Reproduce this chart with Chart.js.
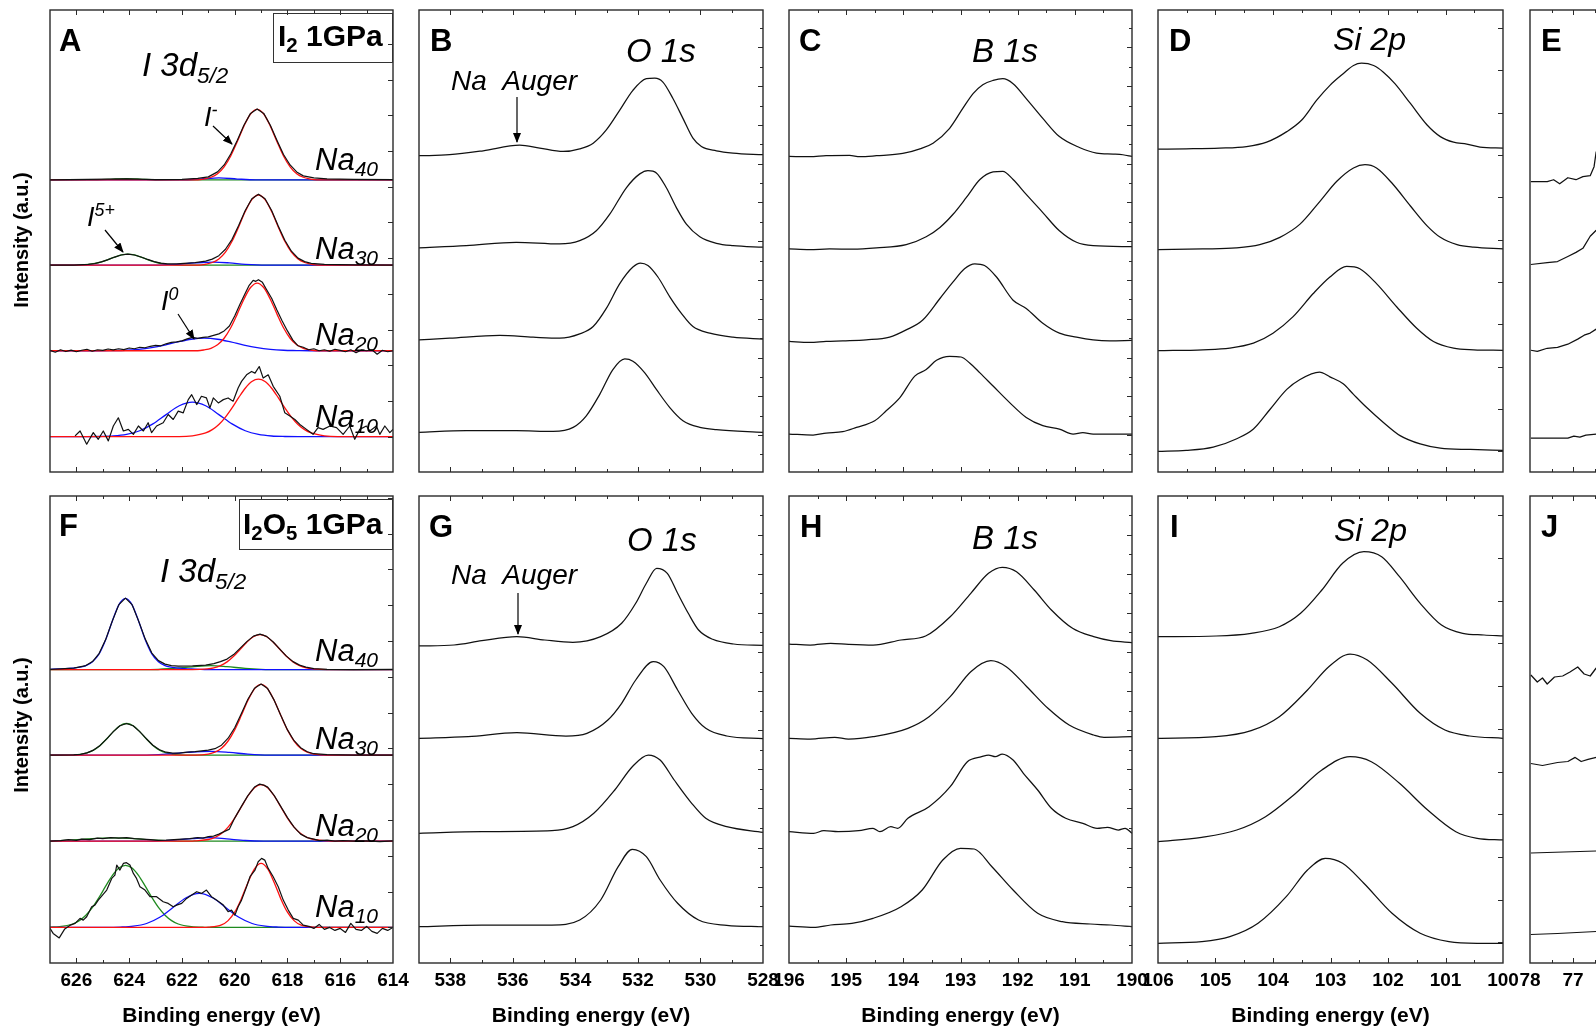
<!DOCTYPE html>
<html>
<head>
<meta charset="utf-8">
<script src="https://cdn.jsdelivr.net/npm/chart.js@4.4.0/dist/chart.umd.min.js"></script>
<style>
  body { margin: 0; width: 1596px; height: 1035px; overflow: hidden; background: #fff; position: relative;
         font-family: "Liberation Sans", Arial, Helvetica, sans-serif; }
  canvas { position: absolute; }
  .t { position: absolute; line-height: 1; white-space: nowrap; color: #000; }
  .b { font-weight: bold; }
  .i { font-style: italic; }
  .sub { font-size: 0.68em; position: relative; top: 0.32em; }
  .sup { font-size: 0.66em; position: relative; top: -0.55em; }
  .box { position: absolute; border: 1.3px solid #333; box-sizing: border-box; }
  .ytitle { position: absolute; width: 240px; text-align: center; font-weight: bold; font-size: 20px; line-height: 20px;
            transform: rotate(-90deg); }
  svg { position: absolute; left: 0; top: 0; }
</style>
</head>
<body>
<script>
const FONT = '"Liberation Sans", Arial, Helvetica, sans-serif';
const BLACK = '#111', RED = '#ff1010', BLUE = '#1010ff', GREEN = '#1f8a1f';

// ---- x tick labels ----
const iTicks = [614, 616, 618, 620, 622, 624, 626];
const oTicks = [528, 530, 532, 534, 536, 538];
const bTicks = [190, 191, 192, 193, 194, 195, 196];
const siTicks = [100, 101, 102, 103, 104, 105, 106];
const eTicks = [70, 71, 72, 73, 74, 75, 76, 77, 78];
const samples = ['40', '30', '20', '10'];

// ---- panel A (I2 1GPa, I 3d5/2) : intensities above each fit baseline ----
const aBase = [294.7, 208.7, 122.3, 35.7];
const aNa40Exp = [[627,0],[624.1,1],[623,0.3],[622,0.5],[621.4,1.5],[621,3],[620.65,8],[620.4,15],[620.15,26],[619.9,40],[619.65,55],[619.4,67],[619.15,71.5],[618.9,67],[618.65,55],[618.4,40],[618.15,25.5],[617.9,15],[617.65,8],[617.4,4],[617,2],[616.5,1],[615.5,0.5],[614,0.3]];
const aNa40Red = [[627,0],[621.4,0],[621.15,0.9],[620.9,2.6],[620.65,6.2],[620.4,13.1],[620.15,24.1],[619.9,38.7],[619.65,54.2],[619.4,66.4],[619.15,71],[618.9,66.4],[618.65,54.2],[618.4,38.7],[618.15,24.1],[617.9,13.1],[617.65,6.2],[617.4,2.6],[617.15,0.9],[616.9,0],[614,0]];
const aNa40Blue = [[627,0],[622,0],[621.3,0.8],[620.6,2],[619.9,0.8],[619.2,0],[614,0]];
const aNa40Green = [[627,0],[625.2,0],[624.6,0.8],[624.1,1.2],[623.6,0.8],[623,0],[614,0]];

const aNa30Exp = [[627,0],[626.1,0],[625.55,0.7],[625.3,1.6],[625.05,3.2],[624.8,5.5],[624.55,8.1],[624.3,10.2],[624.05,11],[623.8,10.2],[623.55,8.2],[623.3,5.7],[623.05,3.5],[622.8,2],[622.55,1.2],[622.2,1.2],[621.5,2.5],[621.1,4],[620.85,6],[620.6,9.5],[620.35,16],[620.1,26],[619.85,40],[619.6,55],[619.35,67],[619.1,71.5],[618.85,67],[618.6,55],[618.35,39.5],[618.1,25],[617.85,14],[617.6,7],[617.35,3.5],[617.1,1.8],[616.6,0.8],[615.5,0.3],[614,0]];
const aNa30Red = [[627,0],[621.35,0],[621.1,0.9],[620.85,2.6],[620.6,6.2],[620.35,13],[620.1,24],[619.85,38.5],[619.6,54],[619.35,66],[619.1,70.7],[618.85,66],[618.6,54],[618.35,38.5],[618.1,24],[617.85,13],[617.6,6.2],[617.35,2.6],[617.1,0.9],[616.85,0],[614,0]];
const aNa30Blue = [[627,0],[623,0],[622.2,0.8],[621.5,2.2],[620.8,3],[620.2,2.2],[619.6,0.8],[618.8,0],[614,0]];
const aNa30Green = [[627,0],[626.1,0],[625.55,0.7],[625.3,1.6],[625.05,3.2],[624.8,5.5],[624.55,8.1],[624.3,10.2],[624.05,11],[623.8,10.2],[623.55,8.1],[623.3,5.5],[623.05,3.2],[622.8,1.6],[622.55,0.7],[622,0],[614,0]];

const aNa20Exp = [[627,0.5],[626.8,-1.5],[626.6,1],[626.4,-0.8],[626.2,0.7],[626,-1],[625.8,0.5],[625.6,1.5],[625.4,-0.5],[625.2,1],[625,0.3],[624.8,1.8],[624.6,0.8],[624.4,2],[624.2,1.2],[624,2.8],[623.8,2],[623.6,3.5],[623.4,3],[623.2,4.5],[623,5.5],[622.8,5],[622.6,7],[622.4,8.5],[622.2,9],[622,10],[621.8,12],[621.6,13.5],[621.4,12.5],[621.2,13.5],[621,14],[620.8,15.5],[620.6,17],[620.4,20],[620.2,25],[620,35],[619.8,47],[619.6,58],[619.45,66],[619.3,71],[619.2,70],[619.1,71.7],[618.95,69],[618.8,62],[618.6,53],[618.4,41],[618.2,30],[618,20],[617.8,11],[617.6,5],[617.4,3.5],[617.2,1],[617,2],[616.8,0],[616.6,1],[616.4,-0.5],[616.2,1.5],[616,0.3],[615.8,-1],[615.6,1],[615.4,-2],[615.2,0.8],[615,0],[614.8,1],[614.6,-3.5],[614.4,0.5],[614.2,-1],[614,0]];
const aNa20Red = [[627,0],[621.4,0],[621.15,0.9],[620.9,2.5],[620.65,6],[620.4,12.6],[620.15,23.2],[619.9,37.2],[619.65,52],[619.4,63.8],[619.15,68.3],[618.9,63.8],[618.65,52],[618.4,37.2],[618.15,23.2],[617.9,12.6],[617.65,6],[617.4,2.5],[617.15,0.9],[616.9,0],[614,0]];
const aNa20Blue = [[627,0],[625.15,0],[624.65,0.2],[624.15,0.5],[623.65,1.4],[623.15,3.1],[622.65,5.7],[622.15,8.9],[621.65,11.6],[621.15,12.7],[620.65,11.6],[620.15,8.9],[619.65,5.7],[619.15,3.1],[618.65,1.4],[618.15,0.5],[617.65,0.2],[617.15,0],[614,0]];

const aNa10Exp = [[626.05,0.7],[625.86,5.7],[625.61,-7.7],[625.36,4],[625.17,-2.7],[624.98,5.7],[624.79,-4.3],[624.6,10.7],[624.41,19],[624.22,5.7],[624.03,7.3],[623.84,2.3],[623.65,10.7],[623.46,5.7],[623.28,14],[623.15,4],[622.96,10.7],[622.71,14],[622.52,22.3],[622.33,17.3],[622.14,25.7],[621.95,24],[621.76,37.3],[621.63,42.3],[621.44,32.3],[621.26,40.7],[621.07,39],[620.94,29],[620.81,39],[620.62,34],[620.43,37.3],[620.25,39],[620.06,35.7],[619.87,49],[619.74,55.7],[619.55,62.3],[619.36,65.7],[619.23,64],[619.07,70.7],[618.92,59],[618.73,62.3],[618.54,50.7],[618.29,40.7],[618.1,24],[617.91,20.7],[617.72,17.3],[617.53,12.3],[617.28,7.3],[617.03,2.3],[616.84,9],[616.65,7.3],[616.39,10.7],[616.14,9],[615.89,2.3],[615.64,10.7],[615.45,-2.7],[615.26,7.3],[615.01,10.7],[614.88,5.7],[614.63,10.7],[614.5,2.3],[614.31,10.7],[614.12,4],[614,7.3]];
const aNa10Red = [[627,0],[622.1,0],[621.6,0.8],[621.1,3.7],[620.85,7],[620.6,12.2],[620.35,19.7],[620.1,29],[619.85,39.3],[619.6,48.8],[619.35,55.6],[619.1,58],[618.85,55.6],[618.6,48.8],[618.35,39.3],[618.1,29],[617.85,19.7],[617.6,12.2],[617.35,7],[617.1,3.7],[616.6,0.8],[616.1,0],[614,0]];
const aNa10Blue = [[627,0],[625.6,0],[625.1,0.1],[624.6,0.6],[624.1,2.2],[623.6,5.9],[623.1,12.8],[622.6,22.2],[622.1,31.1],[621.6,34.7],[621.1,31.1],[620.6,22.2],[620.1,12.8],[619.6,5.9],[619.1,2.2],[618.6,0.6],[618.1,0.1],[617.6,0],[614,0]];

// ---- panel F (I2O5 1GPa, I 3d5/2) ----
const fBase = [293.4, 207.8, 121.9, 35.6];
const fNa40Exp = [[627,0.3],[626.6,0.8],[626.1,1.5],[625.64,4],[625.39,8],[625.14,16],[624.89,30],[624.64,48.5],[624.39,65],[624.14,71.5],[623.89,65],[623.64,48.5],[623.39,30.5],[623.14,16.5],[622.89,9],[622.64,5.5],[622.4,4],[622.14,3.5],[621.6,3.8],[621.1,4.5],[620.79,6],[620.54,8],[620.29,10.5],[620.04,15],[619.79,21.5],[619.54,28],[619.29,33.5],[619.04,35.5],[618.79,33.2],[618.54,27.6],[618.29,20.5],[618.04,13.5],[617.79,8],[617.54,4.5],[617.3,2.5],[617,1],[616.5,0.3],[615.5,0],[614,0.2]];
const fNa40Red = [[627,0],[621.6,0],[621.04,0.7],[620.79,1.8],[620.54,4],[620.29,7.7],[620.04,13.3],[619.79,20.3],[619.54,27.4],[619.29,32.9],[619.04,34.9],[618.79,32.9],[618.54,27.4],[618.29,20.3],[618.04,13.3],[617.79,7.7],[617.54,4],[617.29,1.8],[617.04,0.7],[616.5,0],[614,0]];
const fNa40Blue = [[627,0.3],[626.64,0.6],[626.14,1.4],[625.64,3.9],[625.39,7.8],[625.14,15.7],[624.89,29.9],[624.64,48.4],[624.39,64.8],[624.14,71.2],[623.89,64.8],[623.64,48.4],[623.39,29.9],[623.14,15.7],[622.89,7.8],[622.64,3.9],[622.14,1.4],[621.64,0.6],[621.14,0],[614,0]];
const fNa40Green = [[627,0],[623.2,0],[622.4,1],[621.6,2.8],[620.9,4],[620.3,3],[619.6,1.2],[619,0.3],[618.2,0],[614,0]];

const fNa30Exp = [[627,0],[626.1,0.3],[625.85,0.9],[625.6,2.3],[625.35,5.1],[625.1,9.8],[624.85,16.4],[624.6,23.6],[624.35,29.5],[624.1,31.7],[623.85,29.5],[623.6,23.6],[623.35,16.5],[623.1,10],[622.85,5.5],[622.6,3],[622.35,2],[622.1,2],[621.8,3],[621.5,3.5],[621,5],[620.75,6.5],[620.5,10],[620.25,17],[620,27.5],[619.75,41.5],[619.5,56],[619.25,67],[619,71.2],[618.75,66.6],[618.5,54.8],[618.25,39.6],[618,25.3],[617.75,14.5],[617.5,7.5],[617.25,3.5],[617,1.5],[616.5,0.5],[615.5,0],[614,0]];
const fNa30Red = [[627,0],[621.5,0],[621,1.1],[620.75,3],[620.5,6.9],[620.25,14.2],[620,25.3],[619.75,39.6],[619.5,54.7],[619.25,66.4],[619,70.8],[618.75,66.4],[618.5,54.7],[618.25,39.6],[618,25.3],[617.75,14.2],[617.5,6.9],[617.25,3],[617,1.1],[616.5,0],[614,0]];
const fNa30Blue = [[627,0],[623.5,0],[622.6,1],[621.8,2.8],[620.9,3.9],[620.2,2.8],[619.5,1],[618.7,0],[614,0]];
const fNa30Green = [[627,0],[626.6,0],[626.1,0.3],[625.85,0.9],[625.6,2.3],[625.35,5.1],[625.1,9.8],[624.85,16.4],[624.6,23.6],[624.35,29.5],[624.1,31.7],[623.85,29.5],[623.6,23.6],[623.35,16.4],[623.1,9.8],[622.85,5.1],[622.6,2.3],[622.35,0.9],[622.1,0.3],[621.6,0],[614,0]];

const fNa20Exp = [[627,0],[626.6,0.5],[626.3,1.5],[626,0.8],[625.8,2],[625.5,1.5],[625.2,3],[625,2.5],[624.7,3.5],[624.4,3],[624.1,3.5],[623.8,2.5],[623.5,2],[623.2,1.5],[622.9,0.8],[622.6,1],[622.3,1.5],[622,2],[621.7,2.5],[621.4,3.5],[621.2,3],[621,4.5],[620.8,5],[620.6,7],[620.4,9.5],[620.2,12],[620,23],[619.75,34.5],[619.5,45.5],[619.25,54],[619.05,57],[618.9,56],[618.75,54],[618.5,45.5],[618.25,34.5],[618,23.5],[617.75,14],[617.5,7],[617.25,3.5],[617,2],[616.8,0.5],[616.5,1],[616.2,0],[615.9,0.5],[615.5,0],[615,0.3],[614.5,-0.5],[614,0.3]];
const fNa20Red = [[627,0],[621.6,0],[621.5,0.2],[621,1.6],[620.75,3.6],[620.5,7.5],[620.25,13.9],[620,23],[619.75,34.1],[619.5,45.1],[619.25,53.4],[619,56.4],[618.75,53.4],[618.5,45.1],[618.25,34.1],[618,23],[617.75,13.9],[617.5,7.5],[617.25,3.6],[617,1.6],[616.5,0.2],[616,0],[614,0]];
const fNa20Blue = [[627,0],[623.2,0],[622.4,0.8],[621.6,2.5],[620.95,3.5],[620.3,2.2],[619.6,0.6],[618.9,0],[614,0]];
const fNa20Green = [[627,0],[626.6,0.5],[625.8,1.8],[625,3],[624.5,3.2],[624,2.8],[623.2,1.3],[622.4,0.3],[621.8,0],[614,0]];

const fNa10Exp = [[627,-1],[626.88,-6],[626.65,-10.5],[626.44,-1.5],[626.25,2],[626.05,4],[625.86,9],[625.74,7.3],[625.61,10.7],[625.42,20.7],[625.3,22.3],[625.17,27.3],[624.85,37.3],[624.66,49],[624.54,52.3],[624.47,62.3],[624.35,57.3],[624.22,64],[624.1,64.7],[623.97,62.3],[623.84,54],[623.72,49],[623.59,40.7],[623.4,37.3],[623.21,30.7],[622.96,30.7],[622.71,25.7],[622.52,24],[622.33,20.7],[622.2,22.3],[622.01,24],[621.82,29],[621.63,32.3],[621.44,35.7],[621.26,34],[621.07,37.3],[620.88,30.7],[620.69,27.3],[620.43,22.3],[620.25,15.7],[620.12,17.3],[619.99,12.3],[619.87,20.7],[619.74,27.3],[619.55,40.7],[619.42,50.7],[619.23,57.3],[619.11,65.7],[618.98,69],[618.86,67.3],[618.73,59],[618.54,50.7],[618.35,40.7],[618.16,27.3],[617.97,17.3],[617.78,9],[617.59,7.3],[617.4,2.3],[617.15,0.7],[617,-1],[616.8,3],[616.6,-2],[616.4,0],[616.2,-3],[616,-1],[615.8,-5],[615.6,4],[615.4,-2],[615.2,-3],[615,1],[614.8,-4],[614.6,-6],[614.4,-1],[614.2,-3],[614,0]];
const fNa10Red = [[627,0],[621.2,0],[621,0.2],[620.5,2.5],[620.25,6.8],[620,15.2],[619.75,28.5],[619.5,44.7],[619.25,58.5],[619,64],[618.75,58.5],[618.5,44.7],[618.25,28.5],[618,15.2],[617.75,6.8],[617.5,2.5],[617,0.2],[616.8,0],[614,0]];
const fNa10Blue = [[627,0],[624.84,0],[624.34,0.3],[623.84,1.2],[623.34,3.9],[622.84,10.1],[622.34,19.9],[621.84,29.7],[621.34,34],[620.84,29.7],[620.34,19.9],[619.84,10.1],[619.34,3.9],[618.84,1.2],[618.34,0.3],[617.84,0],[614,0]];
const fNa10Green = [[627,0.3],[626.64,0.7],[626.14,3.4],[625.89,6.8],[625.64,12.2],[625.39,20],[625.14,30],[624.89,41.2],[624.64,51.7],[624.39,59.3],[624.14,62],[623.89,59.3],[623.64,51.7],[623.39,41.2],[623.14,30],[622.89,20],[622.64,12.2],[622.39,6.8],[622.14,3.4],[621.64,0.7],[621.14,0.1],[620.5,0],[614,0]];

// ---- O 1s (B: I2, G: I2O5), stacked intensities ----
const bNa40 = [[539,319],[538.02,320],[536.95,324],[535.78,329.7],[535.14,326.7],[534.39,323.3],[533.86,326],[533.43,331.7],[533.01,345],[532.58,365],[532.16,385],[531.73,396.7],[531.46,397.3],[531.2,393.3],[530.88,376.7],[530.56,356.7],[530.24,336.7],[529.97,328.3],[529.49,324],[528.96,321.7],[528,320]];
const bNa30 = [[539,226],[537.49,228.3],[535.89,231.7],[534.5,230],[533.86,233.3],[533.33,243.3],[532.9,260],[532.37,286.7],[531.94,300.7],[531.68,304],[531.41,301.7],[531.09,286.7],[530.77,266.7],[530.45,250],[530.02,237.3],[529.49,230.7],[528.96,228.3],[528,226.7]];
const bNa20 = [[539,133.3],[538.02,135],[536.42,137.7],[535.35,136],[534.5,135],[533.86,139.3],[533.43,146.7],[533.01,165],[532.58,190],[532.16,206.7],[531.92,210.7],[531.68,208.3],[531.36,196.7],[530.98,176.7],[530.61,160],[530.24,146.7],[529.7,140],[528.96,136],[528,134]];
const bNa10 = [[539,40],[537.49,41.7],[535.89,41.7],[534.71,41],[534.07,45],[533.65,56.7],[533.22,78.3],[532.8,103.3],[532.42,114],[532.16,111.7],[531.78,100],[531.41,83.3],[530.98,65],[530.56,51.7],[530.02,45],[529.49,42.7],[528,40]];
const gNa40 = [[539,317],[537.88,318],[536.99,322.3],[535.87,326.3],[534.98,323],[534.08,320.7],[533.19,326.3],[532.52,339.7],[532.07,359.7],[531.73,379.7],[531.4,394.7],[531.06,389.7],[530.73,369.7],[530.39,349.7],[530.06,333],[529.61,323.7],[528.94,319],[528,317.7]];
const gNa30 = [[539,224.7],[537.43,226.3],[535.87,230.3],[534.3,227],[533.63,229.7],[532.96,243],[532.52,259.7],[532.07,283],[531.51,301.3],[531.17,296.3],[530.73,273],[530.28,249.7],[529.83,234.7],[529.16,227],[528,224.3]];
const gNa20 = [[539,129.7],[536.99,131.3],[534.75,132.3],[534.08,136.3],[533.41,149.7],[532.74,173],[532.18,196.3],[531.67,208],[531.29,203],[530.84,183],[530.28,159.7],[529.83,144.7],[529.16,136.3],[528,130.7]];
const gNa10 = [[539,36.3],[536.99,38],[534.75,38],[533.86,43],[533.19,63],[532.63,96.3],[532.18,113.7],[531.73,106.3],[531.29,83],[530.73,59.7],[530.06,43],[529.16,37.7],[528,36.3]];

// ---- B 1s (C: I2, H: I2O5) ----
const cNa40 = [[196,318.3],[195.64,318],[195.35,319],[194.94,319.3],[194.76,318],[194.47,319],[194.01,321.3],[193.71,326],[193.48,331.7],[193.19,346.7],[192.96,366.7],[192.78,381.7],[192.61,390.7],[192.43,395],[192.26,396.7],[192.08,391.7],[191.85,376.7],[191.56,356.7],[191.27,338.3],[190.92,327.3],[190.62,321.7],[190.33,320.7],[190.16,320],[190,318.3]];
const cNa30 = [[196,225],[195.64,224.3],[195.29,225],[194.88,224.7],[194.47,226],[193.95,229.3],[193.6,237.3],[193.36,246.7],[193.13,260],[192.9,276.7],[192.66,295],[192.43,302.7],[192.26,303.3],[192.08,295],[191.85,280],[191.56,261.7],[191.27,243.3],[190.97,231.7],[190.68,228.3],[190,227.3]];
const cNa20 = [[196,131.7],[195.64,130.7],[195.35,131.7],[195.06,132.3],[194.65,133.3],[194.24,136],[193.95,143.3],[193.66,153.3],[193.36,175],[193.13,191.7],[192.93,205],[192.75,210],[192.58,208.3],[192.37,196.7],[192.08,173.3],[191.85,165],[191.56,150],[191.27,140],[190.97,136],[190.68,133.3],[190.39,132.3],[190,132.7]];
const cNa10 = [[196,38.3],[195.58,37.3],[195.35,39.3],[195.06,40.7],[194.82,45],[194.5,51.7],[194.3,61.7],[194.06,75],[193.8,96.7],[193.6,103.3],[193.42,112.7],[193.19,116.7],[192.99,116],[192.84,110],[192.66,100],[192.43,86.7],[192.14,70],[191.85,55],[191.56,46.7],[191.27,43.3],[191.03,38.3],[190.86,39.7],[190.68,38.3],[190,38.3]];
const hNa40 = [[196,319],[195.63,318],[195.27,319.7],[194.96,318.7],[194.53,318],[194.04,323],[193.61,327],[193.18,346.3],[192.82,369.7],[192.51,389.7],[192.27,395.7],[192.02,391.3],[191.71,373],[191.41,353],[191.04,334.7],[190.67,326.3],[190.37,322.3],[190,320.3]];
const hNa30 = [[196,224.7],[195.63,224],[195.2,225.7],[194.96,224],[194.53,226.3],[193.92,234.7],[193.55,246.3],[193.18,266.3],[192.82,291.3],[192.47,302.3],[192.2,296.3],[191.84,276.3],[191.47,254.7],[191.1,238],[190.67,228],[190.49,225.7],[190,226.3]];
const hNa20 = [[196,131.3],[195.57,129.7],[195.39,132.3],[195.14,131.3],[194.78,132.3],[194.53,134.7],[194.41,131.3],[194.22,136.3],[194.1,134.7],[193.92,144.7],[193.55,156.3],[193.18,176.3],[192.88,201.3],[192.63,206.3],[192.51,208],[192.39,206.3],[192.27,209],[192.08,203],[191.9,189.7],[191.65,173],[191.41,154.7],[191.16,144.7],[190.86,139.7],[190.61,134.7],[190.43,135.7],[190.24,133],[190.12,134.7],[190,129.7]];
const hNa10 = [[196,37],[195.57,35.7],[195.27,38],[194.9,39.7],[194.53,44.7],[194.04,56.3],[193.67,73],[193.31,103],[193,114.7],[192.76,114],[192.45,96.3],[192.08,73],[191.65,49.7],[191.22,41.3],[190.73,39],[190.37,38],[190,36.3]];

// ---- Si 2p (D: I2, I: I2O5) ----
const dNa40 = [[106,325.7],[105.51,326],[104.93,326.7],[104.46,328.3],[104.11,332.7],[103.76,343.3],[103.5,355],[103.24,375],[103.01,390],[102.78,401.7],[102.6,410],[102.46,412.3],[102.25,410],[102.08,403.3],[101.88,391.7],[101.61,371.7],[101.32,350],[101.09,338.3],[100.86,332.7],[100.63,330.7],[100.4,327.7],[100,326.7]];
const dNa30 = [[106,224.3],[105.22,225],[104.64,226],[104.23,229.3],[103.88,236.7],[103.53,250],[103.18,273.3],[102.89,293.3],[102.6,306.7],[102.4,310],[102.2,306.7],[101.91,290],[101.61,268.3],[101.32,248.3],[101.09,236.7],[100.8,229.3],[100.51,226.7],[100,225]];
const dNa20 = [[106,122.3],[105.22,123.3],[104.75,125],[104.34,130],[104,140],[103.65,156.7],[103.3,180],[103.01,196.7],[102.72,207.3],[102.49,205],[102.2,190],[101.85,166.7],[101.5,145],[101.21,131.7],[100.86,125],[100.51,123.3],[100,122.7]];
const dNa10 = [[106,20.7],[105.51,21.7],[105.04,25],[104.64,33.3],[104.34,43.3],[104.05,63.3],[103.76,83.3],[103.53,93.3],[103.19,100.7],[103.01,96],[102.78,89],[102.6,78.3],[102.37,65],[102.08,50],[101.79,36.7],[101.44,28.3],[101.09,24],[100.57,22.7],[100,21.7]];
const iNa40 = [[106,326.3],[104.99,327],[104.38,329.7],[103.89,336.3],[103.52,349.7],[103.15,373],[102.79,399.7],[102.42,411.3],[102.11,406.3],[101.8,386.3],[101.44,359.7],[101.07,338],[100.7,329.7],[100.33,328],[100,327]];
const iNa30 = [[106,224.7],[104.99,226.3],[104.38,232.3],[103.89,246.3],[103.4,273],[103.03,296.3],[102.66,309],[102.36,303],[101.93,279.7],[101.44,249.7],[101.01,233],[100.58,227],[100,224.7]];
const iNa20 = [[106,121.3],[105.24,125.7],[104.63,133],[104.13,146.3],[103.64,168],[103.15,193],[102.66,206.3],[102.29,201.3],[101.8,179.7],[101.31,153],[100.82,131.3],[100.45,124.7],[100,123]];
const iNa10 = [[106,19.7],[105.24,21.3],[104.75,26.3],[104.26,39.7],[103.77,66.3],[103.4,93],[103.09,104.7],[102.79,99.7],[102.42,79.7],[101.93,49.7],[101.44,29.7],[100.94,21.3],[100.45,19.7],[100,19.7]];

// ---- E / J (only the left edge is visible) ----
const eNa40 = [[77.98,292.8],[77.6,292.8],[77.45,294.8],[77.31,290.7],[77.12,296.8],[76.93,294.8],[76.77,297.9],[76.6,298.9],[76.51,308],[76.46,323.3]];
const eNa30 = [[77.98,209.3],[77.6,211.3],[77.36,212.3],[77.12,217.4],[76.93,221.5],[76.77,225.6],[76.6,237.8],[76.46,243.9]];
const eNa20 = [[77.98,122.8],[77.83,121.7],[77.6,124.8],[77.36,125.8],[77.12,128.9],[76.89,134],[76.74,138],[76.6,140.1],[76.46,144.1]];
const eNa10 = [[77.98,34.2],[77.12,34.2],[76.98,36.2],[76.84,35.2],[76.7,37.2],[76.46,38.3]];
const jNa40 = [[77.98,288],[77.83,281],[77.71,285],[77.6,279],[77.43,286],[77.24,287],[77.07,291],[76.89,296],[76.74,289],[76.6,287],[76.46,295]];
const jNa30 = [[77.98,199.5],[77.71,197.5],[77.36,200.5],[77.12,201.5],[76.95,205.6],[76.81,201.5],[76.65,203.6],[76.46,205.6]];
const jNa20 = [[77.98,110],[76.46,112]];
const jNa10 = [[77.98,28.5],[77.36,29.5],[76.46,31.5]];

// ---------------------------------------------------------------
function fitStack(base, groups) {
    const out = [];
    groups.forEach((g, k) => {
        out.push({ pts: g[0], base: base[k], color: BLACK, smooth: false, width: 1.2 });
        if (g[1]) out.push({ pts: g[1], base: base[k], color: RED, smooth: true, width: 1.3 });
        if (g[2]) out.push({ pts: g[2], base: base[k], color: BLUE, smooth: true, width: 1.3 });
        if (g[3]) out.push({ pts: g[3], base: base[k], color: GREEN, smooth: true, width: 1.3 });
    });
    return out;
}
function plain(list, smooth) {
    return list.map(p => ({ pts: p, base: 0, color: BLACK, smooth: smooth, width: 1.25 }));
}

const TOP = 10, TOP_H = 466, BOT = 496, BOT_H = 467;
const cols = [50, 419, 789, 1158, 1530];
const widths = [343, 344, 343, 345, 344];
const tickSetA = { start: 35.7, step: 36, alt: false };
const tickSetF = { start: 35.6, step: 35.8, alt: false };
const tickSetB = { start: 17.7, step: 19.55, alt: true };
const tickSetD = { start: 20.7, step: 42.7, alt: false };

const panels = [
    { col: 0, row: 0, range: [614, 627], ticks: iTicks, yt: tickSetA,
      series: fitStack(aBase, [[aNa40Exp, aNa40Red, aNa40Blue, aNa40Green], [aNa30Exp, aNa30Red, aNa30Blue, aNa30Green],
                               [aNa20Exp, aNa20Red, aNa20Blue], [aNa10Exp, aNa10Red, aNa10Blue]]) },
    { col: 1, row: 0, range: [528, 539], ticks: oTicks, yt: tickSetB, series: plain([bNa40, bNa30, bNa20, bNa10], true) },
    { col: 2, row: 0, range: [190, 196], ticks: bTicks, yt: tickSetB, series: plain([cNa40, cNa30, cNa20, cNa10], true) },
    { col: 3, row: 0, range: [100, 106], ticks: siTicks, yt: tickSetD, series: plain([dNa40, dNa30, dNa20, dNa10], true) },
    { col: 4, row: 0, range: [70, 78], ticks: eTicks, yt: tickSetD, series: plain([eNa40, eNa30, eNa20, eNa10], false) },
    { col: 0, row: 1, range: [614, 627], ticks: iTicks, yt: tickSetF,
      series: fitStack(fBase, [[fNa40Exp, fNa40Red, fNa40Blue, fNa40Green], [fNa30Exp, fNa30Red, fNa30Blue, fNa30Green],
                               [fNa20Exp, fNa20Red, fNa20Blue, fNa20Green], [fNa10Exp, fNa10Red, fNa10Blue, fNa10Green]]) },
    { col: 1, row: 1, range: [528, 539], ticks: oTicks, yt: tickSetB, series: plain([gNa40, gNa30, gNa20, gNa10], true) },
    { col: 2, row: 1, range: [190, 196], ticks: bTicks, yt: tickSetB, series: plain([hNa40, hNa30, hNa20, hNa10], true) },
    { col: 3, row: 1, range: [100, 106], ticks: siTicks, yt: tickSetD, series: plain([iNa40, iNa30, iNa20, iNa10], true) },
    { col: 4, row: 1, range: [70, 78], ticks: eTicks, yt: tickSetD, series: plain([jNa40, jNa30, jNa20, jNa10], false) }
];

// frame + inward ticks drawn from the chart's own scales
const frameTicks = {
    id: 'frameTicks',
    afterDraw(chart, args, o) {
        const { ctx, chartArea: a, scales: { x, y } } = chart;
        const line = (x1, y1, x2, y2) => { ctx.beginPath(); ctx.moveTo(x1, y1); ctx.lineTo(x2, y2); ctx.stroke(); };
        ctx.save();
        ctx.strokeStyle = '#2a2a2a';
        ctx.lineWidth = 1;
        const t = o.ticks, half = (t[1] - t[0]) / 2;
        t.forEach(v => {
            const px = Math.round(x.getPixelForValue(v)) + 0.5;
            if (v > x.min && v < x.max) { line(px, a.bottom, px, a.bottom - 5); line(px, a.top, px, a.top + 5); }
            const m = v + half;
            if (m > x.min && m < x.max) {
                const pm = Math.round(x.getPixelForValue(m)) + 0.5;
                line(pm, a.bottom, pm, a.bottom - 3); line(pm, a.top, pm, a.top + 3);
            }
        });
        for (let k = 0, v = o.yt.start; v < y.max; k++, v += o.yt.step) {
            const py = Math.round(y.getPixelForValue(v)) + 0.5;
            const len = o.yt.alt && k % 2 === 0 ? 3 : 5;
            line(a.right, py, a.right - len, py);
        }
        ctx.lineWidth = 1.4;
        ctx.strokeRect(a.left, a.top, a.right - a.left, a.bottom - a.top);
        ctx.restore();
    }
};

panels.forEach(p => {
    const padX = 30, padT = 4, padB = p.row === 1 ? 44 : 4;
    const left = cols[p.col], w = widths[p.col];
    const top = p.row === 0 ? TOP : BOT, h = p.row === 0 ? TOP_H : BOT_H;
    const cv = document.createElement('canvas');
    const cw = w + 2 * padX, ch = h + padT + padB;
    cv.width = cw; cv.height = ch;
    cv.style.left = (left - padX) + 'px';
    cv.style.top = (top - padT) + 'px';
    cv.style.width = cw + 'px'; cv.style.height = ch + 'px';
    document.body.appendChild(cv);

    new Chart(cv, {
        type: 'line',
        data: {
            datasets: p.series.map(s => ({
                data: s.pts.map(([e, v]) => ({ x: e, y: v + s.base })),
                borderColor: s.color,
                borderWidth: s.width,
                pointRadius: 0,
                fill: false,
                tension: 0,
                cubicInterpolationMode: s.smooth ? 'monotone' : 'default',
                borderJoinStyle: 'round'
            }))
        },
        options: {
            responsive: false,
            animation: false,
            events: [],
            layout: { padding: { left: padX, right: padX, top: padT, bottom: p.row === 1 ? 0 : padB } },
            plugins: {
                legend: { display: false },
                tooltip: { enabled: false },
                frameTicks: { ticks: p.ticks, yt: p.yt }
            },
            scales: {
                x: {
                    type: 'linear', reverse: true, min: p.range[0], max: p.range[1],
                    display: p.row === 1,
                    grid: { display: false, drawTicks: false },
                    border: { display: false },
                    afterBuildTicks: s => { s.ticks = p.ticks.map(v => ({ value: v })); },
                    afterFit: s => { s.height = padB; },
                    ticks: { color: '#000', padding: 6, maxRotation: 0, autoSkip: false,
                             font: { family: FONT, size: 19, weight: 'bold' } }
                },
                y: { type: 'linear', display: false, min: 0, max: h }
            }
        },
        plugins: [frameTicks]
    });
});

// ---- text ----
function label(html, x, baseline, size, cls) {
    const d = document.createElement('div');
    d.className = 't ' + cls;
    d.style.fontSize = size + 'px';
    d.style.left = x + 'px';
    d.style.top = (baseline - 0.8465 * size) + 'px';
    d.innerHTML = html;
    document.body.appendChild(d);
}
function box(x, y, w, h) {
    const d = document.createElement('div');
    d.className = 'box';
    Object.assign(d.style, { left: x + 'px', top: y + 'px', width: w + 'px', height: h + 'px' });
    document.body.appendChild(d);
}

const letters = [['A', 59, 51], ['B', 430, 51], ['C', 799, 51], ['D', 1169, 51], ['E', 1541, 51],
                 ['F', 59, 536], ['G', 429, 537], ['H', 800, 537], ['I', 1170, 537], ['J', 1541, 537]];
letters.forEach(([s, x, y]) => label(s, x, y, 31, 'b'));

box(273, 13, 120, 50);
label('I<span class="sub">2</span> 1GPa', 278, 46, 30, 'b');
box(239, 499, 154, 51);
label('I<span class="sub">2</span>O<span class="sub">5</span> 1GPa', 243, 534, 30, 'b');

label('I 3d<span class="sub">5/2</span>', 142, 76, 33, 'i');
label('I 3d<span class="sub">5/2</span>', 160, 582, 33, 'i');
label('O 1s', 626, 62, 33, 'i');
label('O 1s', 627, 551, 33, 'i');
label('B 1s', 972, 62, 33, 'i');
label('B 1s', 972, 549, 33, 'i');
label('Si 2p', 1333, 50, 32, 'i');
label('Si 2p', 1334, 541, 32, 'i');
label('Na&nbsp;&nbsp;Auger', 451, 91, 28, 'i');
label('Na&nbsp;&nbsp;Auger', 451, 585, 28, 'i');

[170, 259, 345, 427].forEach((y, k) => label('Na<span class="sub">' + samples[k] + '</span>', 315, y, 31, 'i'));
[661, 749, 836, 917].forEach((y, k) => label('Na<span class="sub">' + samples[k] + '</span>', 315, y, 31, 'i'));

label('I<span class="sup">-</span>', 204, 127, 27, 'i');
label('I<span class="sup">5+</span>', 87, 227, 27, 'i');
label('I<span class="sup">0</span>', 161, 311, 27, 'i');

[[240], [725]].forEach(([cy]) => {
    const d = document.createElement('div');
    d.className = 'ytitle';
    d.textContent = 'Intensity (a.u.)';
    d.style.left = (21 - 120) + 'px';
    d.style.top = (cy - 10) + 'px';
    document.body.appendChild(d);
});
cols.forEach((x, k) => {
    const d = document.createElement('div');
    d.className = 't b';
    d.style.fontSize = '21px';
    d.style.width = '300px';
    d.style.textAlign = 'center';
    d.style.left = (x + widths[k] / 2 - 150) + 'px';
    d.style.top = (1022 - 0.8465 * 21) + 'px';
    d.textContent = 'Binding energy (eV)';
    document.body.appendChild(d);
});

// arrows
const arrows = [[213, 126, 232, 144], [105, 230, 123, 252], [178, 314, 194, 339], [517, 97, 517, 142], [518, 593, 518, 634]];
const ns = 'http://www.w3.org/2000/svg';
const svg = document.createElementNS(ns, 'svg');
svg.setAttribute('width', 1596); svg.setAttribute('height', 1035);
svg.innerHTML = '<defs><marker id="ah" markerWidth="10" markerHeight="8" refX="9" refY="4" orient="auto" markerUnits="userSpaceOnUse">' +
    '<path d="M0,0 L10,4 L0,8 z" fill="#000"/></marker></defs>';
arrows.forEach(([x1, y1, x2, y2]) => {
    const l = document.createElementNS(ns, 'line');
    l.setAttribute('x1', x1); l.setAttribute('y1', y1); l.setAttribute('x2', x2); l.setAttribute('y2', y2);
    l.setAttribute('stroke', '#000'); l.setAttribute('stroke-width', '1.2'); l.setAttribute('marker-end', 'url(#ah)');
    svg.appendChild(l);
});
document.body.appendChild(svg);
</script>
</body>
</html>
